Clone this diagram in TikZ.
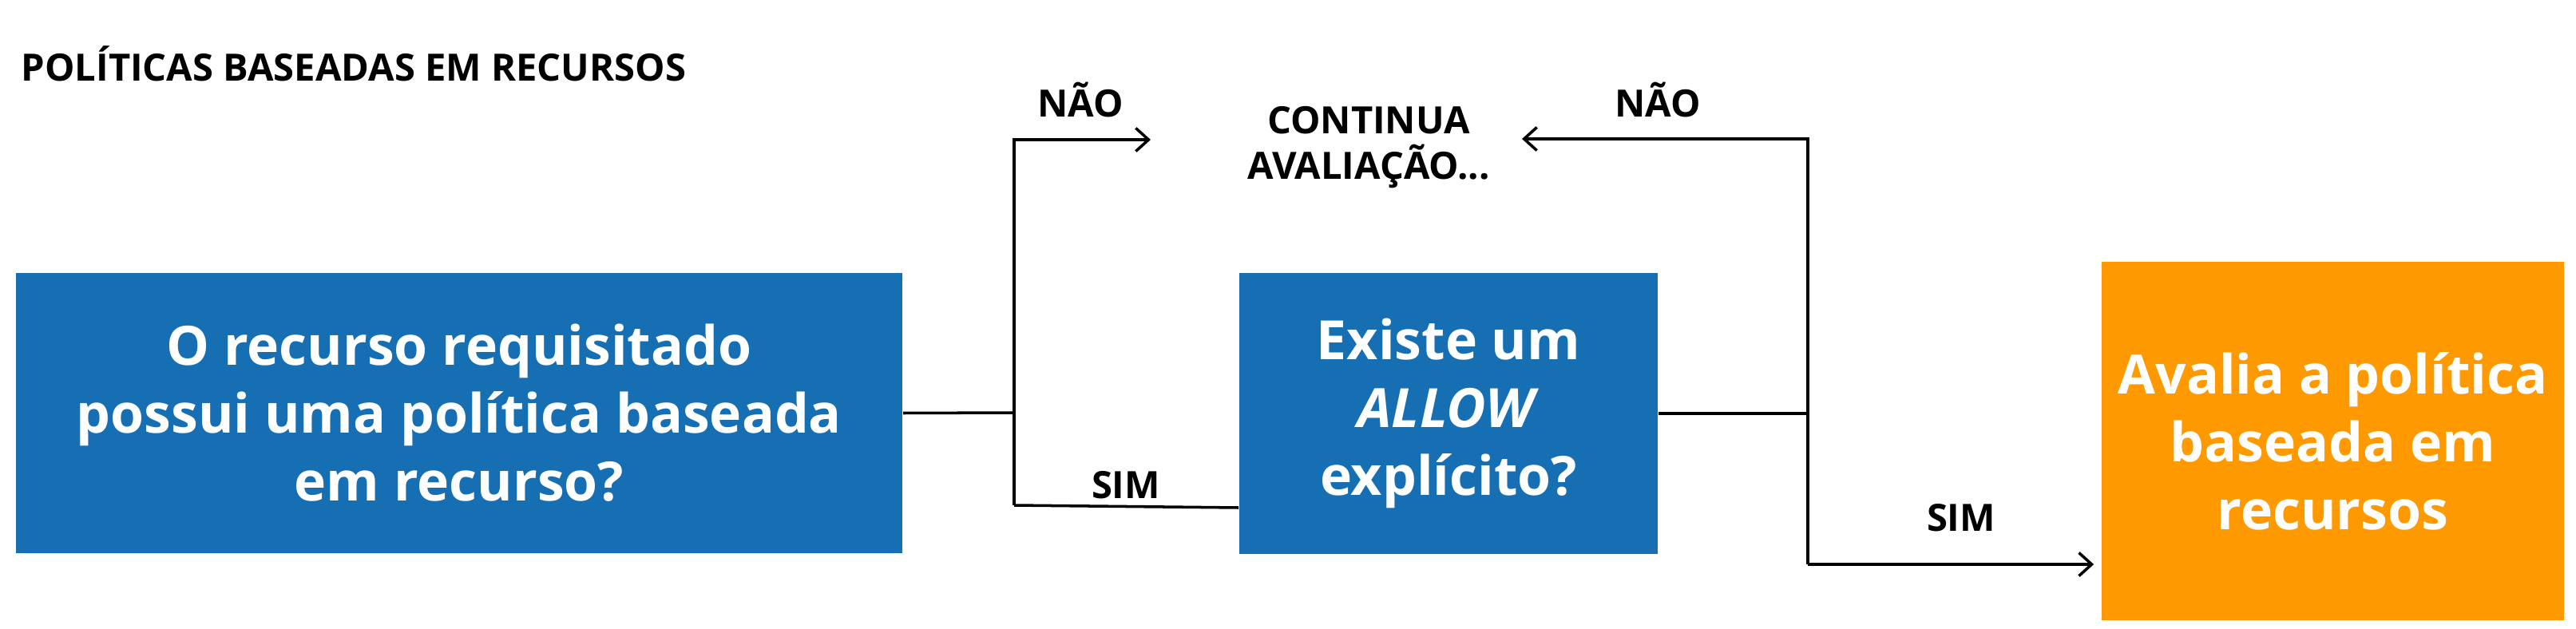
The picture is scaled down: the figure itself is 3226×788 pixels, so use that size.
\documentclass[tikz,border=0pt]{standalone}
\usepackage{fontspec}
\setmainfont{Open Sans}
\usetikzlibrary{arrows.meta}
\definecolor{awsblue}{HTML}{166EB3}
\definecolor{awsorange}{HTML}{FF9900}
\newcommand\boxtxt{\bfseries\fontsize{19.3}{24.2}\selectfont}
\newcommand\lbltxt{\bfseries\fontsize{13.4}{16.2}\selectfont}

\begin{document}
\begin{tikzpicture}[x=0.01cm,y=-0.01cm,
	qbox/.style={fill=awsblue,text=white,font=\boxtxt,align=center,inner sep=0pt},
	rbox/.style={fill=awsorange,text=white,font=\boxtxt,align=center,inner sep=0pt},
	lbl/.style={font=\lbltxt,inner sep=0pt,anchor=base},
	conn/.style={line width=1pt},
	arr/.style={conn,-{Straight Barb[length=0.16cm,width=0.29cm]}}]
	
	\useasboundingbox (0,0) rectangle (3226,788);
	
	%% title
	\node[lbl,anchor=base west] (title) at (26,102) {POLÍTICAS BASEADAS EM RECURSOS};
	
	%% boxes
	\node[qbox,minimum width=11.1cm,minimum height=3.51cm] (q1) at (575,517.5)
		{O recurso requisitado\\possui uma política baseada\\em recurso?};
	\node[qbox,minimum width=5.24cm,minimum height=3.52cm] (q2) at (1814,518)
		{Existe um\\\textit{ALLOW}\\explícito?};
	\node[rbox,minimum width=5.79cm,minimum height=4.49cm] (res) at (2921.5,552.5)
		{Avalia a política\\baseada em\\recursos};
	
	\node[lbl,anchor=north,align=center] (cont) at (1714,133) {CONTINUA\\AVALIAÇÃO...};
	
	%% labels
	\node[lbl] (naoL) at (1353,147) {NÃO};
	\node[lbl] (naoR) at (2076,147) {NÃO};
	\node[lbl] (simL) at (1410,624) {SIM};
	\node[lbl] (simR) at (2456,665) {SIM};
	
	%% left branch
	\coordinate (jL) at (1270,517);
	\coordinate (bL) at (1270,633);
	\coordinate (tL) at (1441,175);
	\draw[conn] (q1.east) -- (jL);
	\draw[arr] (bL) |- (tL);
	\draw[conn] (bL) -- (q2.west |- 0,636);
	
	%% right branch
	\coordinate (jR) at (2264,518);
	\coordinate (bR) at (2264,707);
	\coordinate (tR) at (1906,174);
	\draw[conn] (q2.east) -- (jR);
	\draw[arr] (bR) |- (tR);
	\draw[arr,shorten >=0.09cm] (bR) -- (res.west |- bR);
	
\end{tikzpicture}
\end{document}
